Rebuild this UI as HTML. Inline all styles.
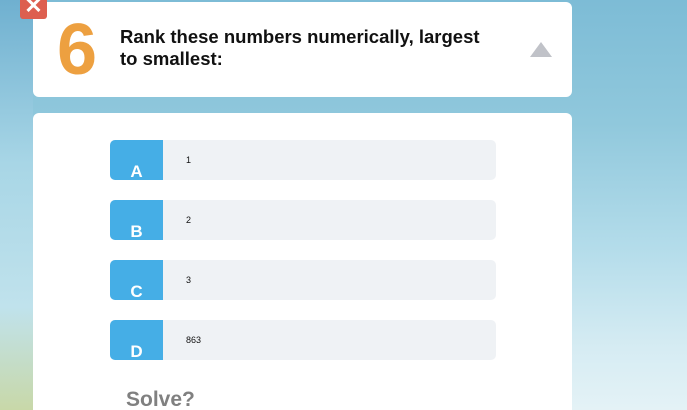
<!DOCTYPE html>
<html style="width:687px;height:410px;overflow:hidden"><head><meta charset="utf-8"><style>
*{margin:0;padding:0;box-sizing:border-box}
body{width:687px;height:410px;overflow:hidden;position:relative;font-family:"Liberation Sans",sans-serif;
background:linear-gradient(180deg,#7dbcd6 0%,#90c8dc 30%,#b3dcea 60%,#d6ecf3 85%,#e4f2f6 100%)}
.bgl{position:absolute;left:0;top:0;width:33px;height:410px;background:linear-gradient(180deg,#6fb0d0 0%,#a8d6e6 40%,#c0e2ec 75%,#c8d8a8 100%)}
.card{position:absolute;left:33px;width:539px;background:#fff;border-radius:6px}
.close{position:absolute;left:20px;top:-6px;width:27px;height:25px;background:#dd5f50;border-radius:3px;color:#fff;font-size:22px;line-height:24px;text-align:center;font-weight:bold}
.num{position:absolute;left:57px;top:12px;font-size:72px;font-weight:bold;color:#eda040;line-height:76px}
.title{position:absolute;left:120px;top:26px;font-size:18.5px;font-weight:bold;color:#111;line-height:22px;width:378px}
.tri{position:absolute;left:530px;top:42px;width:0;height:0;border-left:11px solid transparent;border-right:11px solid transparent;border-bottom:15px solid #c0c2c8}
.opt{position:absolute;left:110px;width:386px;height:40px;background:#eff2f5;border-radius:5px;overflow:hidden}
.let{position:absolute;left:0;top:0;width:53px;height:40px;background:#45aee6;color:#fff;font-size:17px;font-weight:bold;text-align:center;line-height:20px;padding-top:22px}
.val{position:absolute;left:76px;top:15px;font-size:9px;color:#111}
.solve{position:absolute;left:126px;top:388px;font-size:21px;font-weight:bold;color:#808080;line-height:24px}
</style></head><body>
<div class="bgl"></div>
<div class="card" style="top:2px;height:95px"></div>
<div class="card" style="top:113px;height:297px;border-radius:6px 6px 0 0"></div>
<div class="close">✕</div>
<div class="num">6</div>
<div class="title">Rank these numbers numerically, largest to smallest:</div>
<div class="tri"></div>
<div class="opt" style="top:140px"><div class="let">A</div><div class="val">1</div></div>
<div class="opt" style="top:200px"><div class="let">B</div><div class="val">2</div></div>
<div class="opt" style="top:260px"><div class="let">C</div><div class="val">3</div></div>
<div class="opt" style="top:320px"><div class="let">D</div><div class="val">863</div></div>
<div class="solve">Solve?</div>
</body></html>
